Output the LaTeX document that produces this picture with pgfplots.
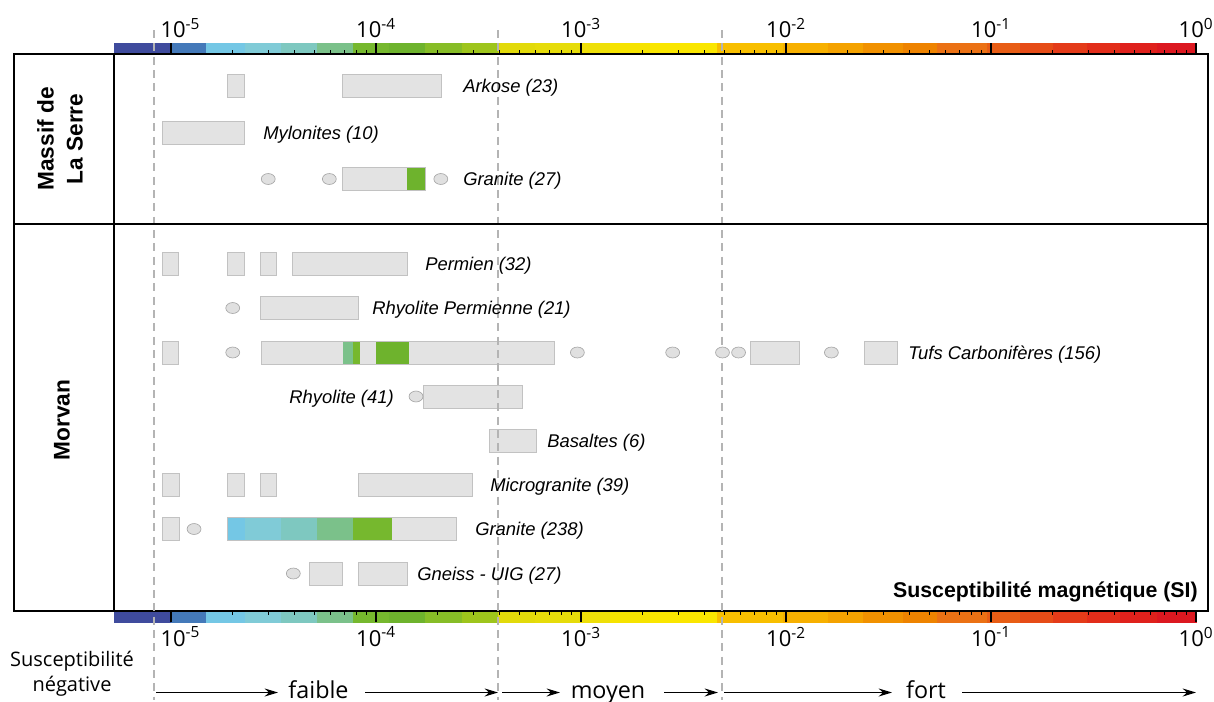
\documentclass[border=0pt]{standalone}
\usepackage{fontspec}
\setmainfont{Liberation Sans}
\newfontfamily\osans{Open Sans}
\usepackage{pgfplots}
\pgfplotsset{compat=1.18}
\usetikzlibrary{arrows.meta}

\definecolor{c01}{HTML}{3F4B9D}
\definecolor{c02}{HTML}{4479B9}
\definecolor{c03}{HTML}{74C7E5}
\definecolor{c04}{HTML}{80CBD7}
\definecolor{c05}{HTML}{7EC8C0}
\definecolor{c06}{HTML}{7BC18A}
\definecolor{c07}{HTML}{76B82E}
\definecolor{c08}{HTML}{6EB32D}
\definecolor{c09}{HTML}{87BD27}
\definecolor{c10}{HTML}{9EC51C}
\definecolor{c11}{HTML}{E2DA0A}
\definecolor{c12}{HTML}{E6DC0A}
\definecolor{c13}{HTML}{EEDF08}
\definecolor{c14}{HTML}{F6E300}
\definecolor{c15}{HTML}{FAE600}
\definecolor{c16}{HTML}{F8BF00}
\definecolor{c17}{HTML}{F7B000}
\definecolor{c18}{HTML}{F4A200}
\definecolor{c19}{HTML}{F19100}
\definecolor{c20}{HTML}{EE8300}
\definecolor{c21}{HTML}{EB7114}
\definecolor{c22}{HTML}{E85D15}
\definecolor{c23}{HTML}{E64C17}
\definecolor{c24}{HTML}{E43B19}
\definecolor{c25}{HTML}{E22D1A}
\definecolor{c26}{HTML}{DF211C}
\definecolor{c27}{HTML}{DC1820}
\definecolor{boxfill}{HTML}{E3E3E3}
\definecolor{boxline}{HTML}{C2C2C2}
\definecolor{ellfill}{HTML}{E0E0E0}
\definecolor{ellline}{HTML}{A8A8A8}
\definecolor{dashc}{HTML}{B4B4B4}

% colour-bar segment: x1, x2, colour
\newcommand{\cbs}[3]{\addplot[draw=#3, line width=0.1pt, fill=#3] coordinates {(#1,0) (#2,0) (#2,1) (#1,1)} --cycle;}
\newcommand{\colourbar}{%
\cbs{5.27e-6}{1e-5}{c01}
\cbs{1e-5}{1.482e-5}{c02}
\cbs{1.482e-5}{2.296e-5}{c03}
\cbs{2.296e-5}{3.441e-5}{c04}
\cbs{3.441e-5}{5.155e-5}{c05}
\cbs{5.155e-5}{7.724e-5}{c06}
\cbs{7.724e-5}{1.157e-4}{c07}
\cbs{1.157e-4}{1.734e-4}{c08}
\cbs{1.734e-4}{2.627e-4}{c09}
\cbs{2.627e-4}{3.936e-4}{c10}
\cbs{3.936e-4}{5.966e-4}{c11}
\cbs{5.966e-4}{9.89e-4}{c12}
\cbs{9.89e-4}{1.385e-3}{c13}
\cbs{1.385e-3}{2.171e-3}{c14}
\cbs{2.171e-3}{4.608e-3}{c15}
\cbs{4.608e-3}{9.67e-3}{c16}
\cbs{9.67e-3}{1.603e-2}{c17}
\cbs{1.603e-2}{2.375e-2}{c18}
\cbs{2.375e-2}{3.72e-2}{c19}
\cbs{3.72e-2}{5.453e-2}{c20}
\cbs{5.453e-2}{9.56e-2}{c21}
\cbs{9.56e-2}{1.385e-1}{c22}
\cbs{1.385e-1}{2.006e-1}{c23}
\cbs{2.006e-1}{2.94e-1}{c24}
\cbs{2.94e-1}{4.26e-1}{c25}
\cbs{4.26e-1}{6.455e-1}{c26}
\cbs{6.455e-1}{1}{c27}
}
% range box: x1, x2, y1, y2, fill
\newcommand{\bx}[5]{\addplot[draw=boxline, line width=0.6pt, fill=#5] coordinates {(#1,#3) (#2,#3) (#2,#4) (#1,#4)} --cycle;}
\newcommand{\bxf}[5]{\addplot[draw=none, fill=#5] coordinates {(#1,#3) (#2,#3) (#2,#4) (#1,#4)} --cycle;}
\newcommand{\bxo}[4]{\addplot[draw=boxline, line width=0.6pt, fill=none] coordinates {(#1,#3) (#2,#3) (#2,#4) (#1,#4)} --cycle;}

\begin{document}
\begin{tikzpicture}
\useasboundingbox (0pt,0pt) rectangle (910.5pt,-526.5pt);

% top colour bar
\begin{axis}[at={(85.5pt,-40.5pt)}, anchor=south west,
    scale only axis, width=820.5pt, height=8.25pt,
    xmode=log, xmin=5.27e-6, xmax=1.144, ymin=0, ymax=1,
    axis line style={draw=none},
    ytick=\empty,
    xtick={1e-5,1e-4,1e-3,1e-2,1e-1,1},
    xticklabels={\hspace*{14pt}10\textsuperscript{-5},10\textsuperscript{-4},10\textsuperscript{-3},10\textsuperscript{-2},10\textsuperscript{-1},10\textsuperscript{0}},
    minor xtick={2e-5,3e-5,4e-5,5e-5,6e-5,7e-5,8e-5,9e-5,2e-4,3e-4,4e-4,5e-4,6e-4,7e-4,8e-4,9e-4,2e-3,3e-3,4e-3,5e-3,6e-3,7e-3,8e-3,9e-3,2e-2,3e-2,4e-2,5e-2,6e-2,7e-2,8e-2,9e-2,2e-1,3e-1,4e-1,5e-1,6e-1,7e-1,8e-1,9e-1},
    tick align=inside,
    major tick length=8.25pt, minor tick length=3pt,
    major tick style={line width=1.1pt, black},
    minor tick style={line width=0.75pt, black},
    axis on top,
    xticklabel style={font=\osans\fontsize{16.5}{19}\selectfont, inner sep=0pt},
    xticklabel shift=3.5pt,
    xtick pos=bottom, xticklabel pos=top]
\colourbar
\end{axis}

% bottom colour bar
\begin{axis}[at={(85.5pt,-458.25pt)}, anchor=north west,
    scale only axis, width=820.5pt, height=8.25pt,
    xmode=log, xmin=5.27e-6, xmax=1.144, ymin=0, ymax=1,
    axis line style={draw=none},
    ytick=\empty,
    xtick={1e-5,1e-4,1e-3,1e-2,1e-1,1},
    xticklabels={\hspace*{14pt}10\textsuperscript{-5},10\textsuperscript{-4},10\textsuperscript{-3},10\textsuperscript{-2},10\textsuperscript{-1},10\textsuperscript{0}},
    minor xtick={2e-5,3e-5,4e-5,5e-5,6e-5,7e-5,8e-5,9e-5,2e-4,3e-4,4e-4,5e-4,6e-4,7e-4,8e-4,9e-4,2e-3,3e-3,4e-3,5e-3,6e-3,7e-3,8e-3,9e-3,2e-2,3e-2,4e-2,5e-2,6e-2,7e-2,8e-2,9e-2,2e-1,3e-1,4e-1,5e-1,6e-1,7e-1,8e-1,9e-1},
    tick align=inside,
    major tick length=8.25pt, minor tick length=3pt,
    major tick style={line width=1.1pt, black},
    minor tick style={line width=0.75pt, black},
    axis on top,
    xticklabel style={font=\osans\fontsize{16.5}{19}\selectfont, inner sep=0pt},
    xticklabel shift=3.5pt,
    xtick pos=top, xticklabel pos=bottom]
\colourbar
\end{axis}

% main panel
\begin{axis}[scale only axis, width=820.5pt, height=417.75pt,
  at={(85.5pt,-458.25pt)}, anchor=south west,
  xmode=log, xmin=5.27e-6, xmax=1.144, ymin=54, ymax=611, y dir=reverse,
  xtick=\empty, ytick=\empty, axis line style={line width=1.5pt, black},
  clip=false]
% --- Massif de La Serre ---
% Arkose (23)
\bx{1.891e-5}{2.29e-5}{74.5}{97.5}{boxfill}
\bx{6.83e-5}{2.075e-4}{74.5}{97.5}{boxfill}
% Mylonites (10)
\bx{9.07e-6}{2.29e-5}{121}{144}{boxfill}
% Granite (27)
\bxf{6.83e-5}{1.421e-4}{167.5}{190.5}{boxfill}
\bxf{1.421e-4}{1.734e-4}{167.5}{190.5}{c08}
\bxo{6.83e-5}{1.734e-4}{167.5}{190.5}
% --- Morvan ---
% Permien (32)
\bx{9.11e-6}{1.09e-5}{252.5}{275.5}{boxfill}
\bx{1.891e-5}{2.283e-5}{252.5}{275.5}{boxfill}
\bx{2.739e-5}{3.279e-5}{252.5}{275.5}{boxfill}
\bx{3.924e-5}{1.427e-4}{252.5}{275.5}{boxfill}
% Rhyolite Permienne (21)
\bx{2.739e-5}{8.2e-5}{296.5}{319.5}{boxfill}
% Tufs Carboniferes (156)
\bx{9.11e-6}{1.09e-5}{341}{364}{boxfill}
\bxf{2.757e-5}{7.44e-4}{341}{364}{boxfill}
\bxf{6.88e-5}{7.724e-5}{341}{364}{c06}
\bxf{7.724e-5}{8.36e-5}{341}{364}{c07}
\bxf{9.97e-5}{1.444e-4}{341}{364}{c08}
\bxo{2.757e-5}{7.44e-4}{341}{364}
\bx{6.71e-3}{1.161e-2}{341}{364}{boxfill}
\bx{2.417e-2}{3.50e-2}{341}{364}{boxfill}
% Rhyolite (41)
\bx{1.701e-4}{5.155e-4}{385}{408}{boxfill}
% Basaltes (6)
\bx{3.558e-4}{6.08e-4}{429}{452}{boxfill}
% Microgranite (39)
\bx{9.11e-6}{1.1e-5}{473.5}{496.5}{boxfill}
\bx{1.882e-5}{2.283e-5}{473.5}{496.5}{boxfill}
\bx{2.739e-5}{3.279e-5}{473.5}{496.5}{boxfill}
\bx{8.2e-5}{2.963e-4}{473.5}{496.5}{boxfill}
% Granite (238)
\bx{9.11e-6}{1.1e-5}{517.5}{540.5}{boxfill}
\bxf{1.882e-5}{2.456e-4}{517.5}{540.5}{boxfill}
\bxf{1.882e-5}{2.296e-5}{517.5}{540.5}{c03}
\bxf{2.296e-5}{3.441e-5}{517.5}{540.5}{c04}
\bxf{3.441e-5}{5.155e-5}{517.5}{540.5}{c05}
\bxf{5.155e-5}{7.724e-5}{517.5}{540.5}{c06}
\bxf{7.724e-5}{1.193e-4}{517.5}{540.5}{c07}
\bxo{1.882e-5}{2.456e-4}{517.5}{540.5}
% Gneiss - UIG (27)
\bx{4.73e-5}{6.83e-5}{562}{585}{boxfill}
\bx{8.2e-5}{1.421e-4}{562}{585}{boxfill}
% isolated values (ellipses)
\addplot[only marks, mark=*, mark size=4.1pt,
  mark options={xscale=1.27, fill=ellfill, draw=ellline, line width=0.5pt}]
  coordinates {
  (2.98e-5,179) (5.92e-5,179) (2.07e-4,179)
  (2.0e-5,308)
  (2.0e-5,352.5) (9.6e-4,352.5) (2.8e-3,352.5) (4.9e-3,352.5) (5.87e-3,352.5) (1.665e-2,352.5)
  (1.567e-4,396.5)
  (1.295e-5,529)
  (3.95e-5,573.5)
  };
% class limits (dashed)
\addplot[dashc, line width=0.9pt, dash pattern=on 6pt off 4pt] coordinates {(8.26e-6,30) (8.26e-6,700)};
\addplot[dashc, line width=0.9pt, dash pattern=on 6pt off 4pt] coordinates {(3.94e-4,30) (3.94e-4,700)};
\addplot[dashc, line width=0.9pt, dash pattern=on 6pt off 4pt] coordinates {(4.87e-3,30) (4.87e-3,700)};
\end{axis}

\begin{scope}[x=0.75pt, y=-0.75pt]
% left panel frame
\draw[line width=1.5pt, black] (114,54) -- (14,54) -- (14,611) -- (114,611);
\draw[line width=1.5pt, black] (14,224) -- (1208,224);
\node[rotate=90, align=center, font=\bfseries\fontsize{17}{21.75}\selectfont] at (60,139) {Massif de\\La Serre};
\node[rotate=90, font=\bfseries\fontsize{17}{20}\selectfont] at (62,420) {Morvan};
% row labels
\tikzset{lab/.style={anchor=base west, inner sep=0pt, font=\itshape\fontsize{13.8}{16}\selectfont}}
\node[lab] at (463,92.6) {Arkose (23)};
\node[lab] at (263,139.1) {Mylonites (10)};
\node[lab] at (463,185.6) {Granite (27)};
\node[lab] at (425,270.6) {Permien (32)};
\node[lab] at (372,314.6) {Rhyolite Permienne (21)};
\node[lab] at (908,359.1) {Tufs Carbonifères (156)};
\node[lab, anchor=base east] at (394,403.1) {Rhyolite (41)};
\node[lab] at (547,447.1) {Basaltes (6)};
\node[lab] at (490,491.6) {Microgranite (39)};
\node[lab] at (475,535.6) {Granite (238)};
\node[lab] at (417,580.1) {Gneiss - UIG (27)};
\node[anchor=base east, inner sep=0pt, font=\bfseries\fontsize{16}{18}\selectfont] at (1198,597) {Susceptibilité magnétique (SI)};
% bottom annotations
\node[align=center, inner sep=0pt, font=\osans\fontsize{15}{18.75}\selectfont] at (72,673.5) {Susceptibilité\\négative};
\tikzset{arr/.style={-{Stealth[length=10pt,width=6pt]}, line width=1pt, black}}
\draw[arr] (156,692.5) -- (278,692.5);
\draw[arr] (365,692.5) -- (498,692.5);
\draw[arr] (502,692.5) -- (560,692.5);
\draw[arr] (664,692.5) -- (718,692.5);
\draw[arr] (724,692.5) -- (892,692.5);
\draw[arr] (962,692.5) -- (1196,692.5);
\tikzset{cls/.style={anchor=base, inner sep=0pt, font=\osans\fontsize{17.5}{20}\selectfont}}
\node[cls] at (318.5,698) {faible};
\node[cls] at (608,698) {moyen};
\node[cls] at (926,698) {fort};
\end{scope}
\end{tikzpicture}
\end{document}
